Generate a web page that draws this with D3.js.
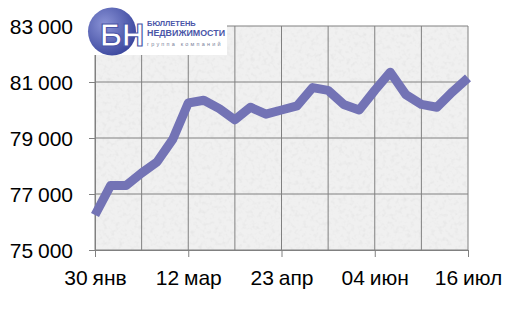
<!DOCTYPE html>
<html>
<head>
<meta charset="utf-8">
<script src="https://cdn.jsdelivr.net/npm/d3@7"></script>
<style>
  body { margin: 0; background: #fff; }
  text { font-family: "Liberation Sans", Arial, sans-serif; }
</style>
</head>
<body>
<div id="chart"></div>
<script>
// weekly observations
var dates = ["2008-01-30","2008-02-06","2008-02-13","2008-02-20","2008-02-27","2008-03-05",
    "2008-03-12","2008-03-19","2008-03-26","2008-04-02","2008-04-09","2008-04-16",
    "2008-04-23","2008-04-30","2008-05-07","2008-05-14","2008-05-21","2008-05-28",
    "2008-06-04","2008-06-11","2008-06-18","2008-06-25","2008-07-02","2008-07-09","2008-07-16"];
var values = [76250, 77300, 77300, 77750, 78150, 78950,
    80250, 80350, 80050, 79650, 80100, 79850,
    80000, 80150, 80800, 80700, 80200, 80000,
    80700, 81350, 80550, 80200, 80100, 80650, 81150];

// axes
var gridDates = ["2008-01-30","2008-02-20","2008-03-12","2008-04-02","2008-04-23",
    "2008-05-14","2008-06-04","2008-06-25","2008-07-16"];
var tickDates = ["2008-01-30","2008-03-12","2008-04-23","2008-06-04","2008-07-16"];
var tickLabels = ["30 янв","12 мар","23 апр","04 июн","16 июл"];
var yTicks = [75000, 77000, 79000, 81000, 83000];

var parse = d3.timeParse("%Y-%m-%d");

var margin = { top: 26, right: 44, bottom: 63, left: 95 },
    width = 512 - margin.left - margin.right,
    height = 313 - margin.top - margin.bottom;

var svg = d3.select("#chart")
    .append("svg")
    .attr("width", 512)
    .attr("height", 313);

var defs = svg.append("defs");

// grey granite texture
var f = defs.append("filter").attr("id", "granite")
    .attr("x", 0).attr("y", 0).attr("width", 1).attr("height", 1);
f.append("feTurbulence").attr("type", "fractalNoise")
    .attr("baseFrequency", 0.25).attr("numOctaves", 3).attr("seed", 7).attr("result", "n");
f.append("feColorMatrix").attr("in", "n").attr("type", "matrix")
    .attr("values", "0 0 0 0 0.78  0 0 0 0 0.78  0 0 0 0 0.78  2.0 0 0 0 -0.95");

var grad = defs.append("radialGradient").attr("id", "globe")
    .attr("cx", "35%").attr("cy", "35%").attr("r", "70%");
grad.append("stop").attr("offset", "0%").attr("stop-color", "#8a93d6");
grad.append("stop").attr("offset", "100%").attr("stop-color", "#3b479e");

var g = svg.append("g")
    .attr("transform", "translate(" + margin.left + "," + margin.top + ")");

var x = d3.scaleTime()
    .domain([parse(dates[0]), parse(dates[dates.length - 1])])
    .range([0, width]);

var y = d3.scaleLinear()
    .domain([75000, 83000])
    .range([height, 0]);

// plot background
g.append("rect").attr("width", width).attr("height", height).attr("fill", "#f0f0f0");
g.append("rect").attr("width", width).attr("height", height)
    .attr("fill", "#fff").attr("filter", "url(#granite)");

// grid
g.append("g").selectAll("line")
    .data(yTicks)
    .enter()
    .append("line")
    .attr("x1", 0).attr("x2", width)
    .attr("y1", d => y(d)).attr("y2", d => y(d))
    .attr("stroke", "#808080").attr("stroke-width", 1);

g.append("g").selectAll("line")
    .data(gridDates)
    .enter()
    .append("line")
    .attr("x1", d => x(parse(d))).attr("x2", d => x(parse(d)))
    .attr("y1", 0).attr("y2", height)
    .attr("stroke", "#808080").attr("stroke-width", 1);

// axes
var fmt = d => d3.format(",")(d).replace(",", " ");
var yAxis = g.append("g")
    .call(d3.axisLeft(y).tickValues(yTicks).tickSize(6).tickPadding(16).tickFormat(fmt));
var xAxis = g.append("g")
    .attr("transform", "translate(0," + height + ")")
    .call(d3.axisBottom(x).tickValues(tickDates.map(parse)).tickSize(7).tickPadding(13)
        .tickFormat((d, i) => tickLabels[i]));

[yAxis, xAxis].forEach(a => {
    a.select(".domain").attr("stroke", "#808080");
    a.selectAll(".tick line").attr("stroke", "#808080");
    a.selectAll("text").attr("font-size", 21).attr("fill", "#000")
        .attr("font-family", "'Liberation Sans', Arial, sans-serif")
        .style("word-spacing", "-1px");
});
yAxis.selectAll("text").attr("dy", "0.35em");
xAxis.selectAll("text").attr("dy", "0.71em");

// line
var line = d3.line()
    .x((d, i) => x(parse(dates[i])))
    .y(d => y(d));

g.append("path")
    .datum(values)
    .attr("d", line)
    .attr("fill", "none")
    .attr("stroke", "#7373b5")
    .attr("stroke-width", 9)
    .attr("stroke-linejoin", "round");

// logo
var logo = svg.append("g");
logo.append("rect").attr("x", 80).attr("y", 0).attr("width", 147).attr("height", 55).attr("fill", "#fff");
logo.append("circle").attr("cx", 112).attr("cy", 31.5).attr("r", 24).attr("fill", "url(#globe)");
logo.append("text").attr("x", 100).attr("y", 46)
    .attr("font-size", 31).attr("font-weight", "bold")
    .attr("textLength", 44).attr("lengthAdjust", "spacingAndGlyphs")
    .attr("fill", "#fff").attr("stroke", "#4a56a8").attr("stroke-width", 1.2)
    .text("БН");
logo.append("text").attr("x", 147).attr("y", 26)
    .attr("font-size", 7.5).attr("font-weight", "bold").attr("fill", "#4a56a8")
    .text("БЮЛЛЕТЕНЬ");
logo.append("text").attr("x", 147).attr("y", 36)
    .attr("font-size", 8.5).attr("font-weight", "bold").attr("fill", "#4a56a8")
    .attr("textLength", 78).attr("lengthAdjust", "spacingAndGlyphs")
    .text("НЕДВИЖИМОСТИ");
logo.append("text").attr("x", 147).attr("y", 46)
    .attr("font-size", 5.5).attr("fill", "#7a7f9a").attr("letter-spacing", 2.2)
    .text("группа компаний");
</script>
</body>
</html>
